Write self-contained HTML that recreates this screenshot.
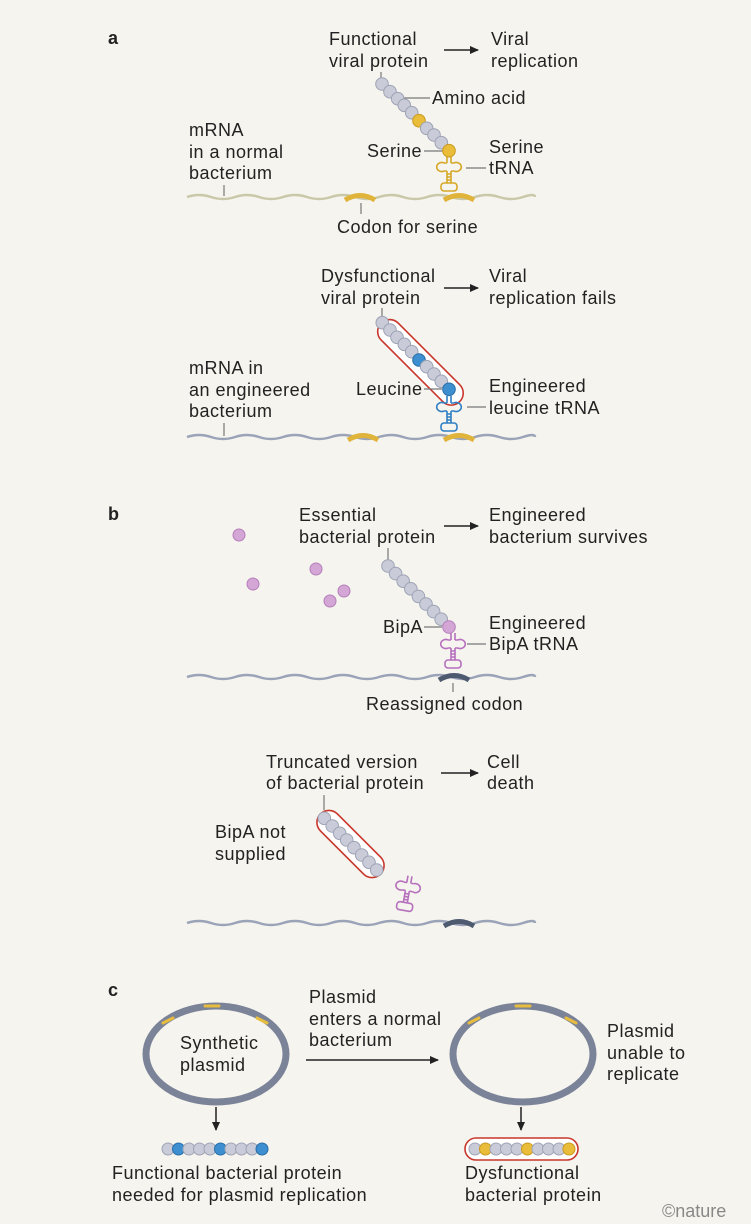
<!DOCTYPE html>
<html><head><meta charset="utf-8"><style>
html,body{margin:0;padding:0;background:#f5f4ee;}
svg{display:block;}
text{font-family:"Liberation Sans",sans-serif;font-size:18px;letter-spacing:0.5px;fill:#222;}
.b{font-weight:bold;font-size:18px;letter-spacing:0;}
.ld{stroke:#777;stroke-width:1.2;fill:none;}
.bd{fill:#c9ccd8;stroke:#9ea3b5;stroke-width:1;}
.y{fill:#e9bd3a;stroke:#c99a1e;stroke-width:1;}
.bl{fill:#3d8fd0;stroke:#2a6ea6;stroke-width:1;}
.pk{fill:#d3a6d6;stroke:#b57fbb;stroke-width:1;}
</style></head><body>
<svg width="751" height="1224" viewBox="0 0 751 1224" xmlns="http://www.w3.org/2000/svg">
<defs>
<marker id="ah" markerWidth="10" markerHeight="10" refX="8" refY="5" orient="auto" markerUnits="userSpaceOnUse"><path d="M0,1 L9,5 L0,9 Z" fill="#222"/></marker>
<g id="trna">
<path d="M-2,0 V7 M2,0 V7 M-2,7 H-5 M2,7 H5 M-2,15 H-5 M2,15 H5 M-2,15 V27 M2,15 V27 M-2,18 H2 M-2,21 H2 M-2,24 H2" fill="none"/>
<path d="M-5,7 A5,4.5 0 1 0 -5,15 M5,7 A5,4.5 0 1 1 5,15" fill="none"/>
<rect x="-8" y="27" width="16" height="8" rx="3" fill="none"/>
</g>
</defs>

<!-- Panel a -->
<text class="b" x="108" y="44">a</text>
<text x="329" y="45">Functional</text>
<text x="329" y="67">viral protein</text>
<line x1="444" y1="50" x2="478" y2="50" stroke="#222" stroke-width="1.5" marker-end="url(#ah)"/>
<text x="491" y="45">Viral</text>
<text x="491" y="67">replication</text>
<line class="ld" x1="381" y1="72" x2="381" y2="80"/>
<line class="ld" x1="404" y1="98" x2="430" y2="98"/>
<text x="432" y="104">Amino acid</text>
<text x="367" y="157">Serine</text>
<line class="ld" x1="424" y1="151" x2="444" y2="151"/>
<text x="489" y="153">Serine</text>
<text x="489" y="174">tRNA</text>
<line class="ld" x1="466" y1="168" x2="486" y2="168"/>
<text x="189" y="136">mRNA</text>
<text x="189" y="158">in a normal</text>
<text x="189" y="179">bacterium</text>
<line class="ld" x1="224" y1="185" x2="224" y2="196"/>
<path d="M187,197 q12,-4 24,0 t24,0 t24,0 t24,0 t24,0 t24,0 t24,0 t24,0 t24,0 t24,0 t24,0 t24,0 t24,0 t24,0 t12,0" stroke="#c9c8a8" stroke-width="2.5" fill="none"/>
<path d="M345,200 q15,-9 30,0" stroke="#e0b43a" stroke-width="5" fill="none"/>
<path d="M444,200 q15,-9 30,0" stroke="#e0b43a" stroke-width="5" fill="none"/>
<line class="ld" x1="361" y1="203" x2="361" y2="214"/>
<text x="337" y="233">Codon for serine</text>
<g stroke="#d6a727" stroke-width="1.6"><use href="#trna" x="449" y="156"/></g>
<circle class="bd" cx="382" cy="84" r="6.3"/><circle class="bd" cx="390" cy="91.7" r="6.3"/><circle class="bd" cx="397.7" cy="98.7" r="6.3"/><circle class="bd" cx="404.3" cy="105.3" r="6.3"/><circle class="bd" cx="411.7" cy="112.7" r="6.3"/><circle class="y" cx="419" cy="120.7" r="6.3"/><circle class="bd" cx="426.7" cy="128.3" r="6.3"/><circle class="bd" cx="434" cy="135" r="6.3"/><circle class="bd" cx="441.3" cy="142.7" r="6.3"/><circle class="y" cx="449" cy="150.7" r="6.3"/>

<!-- a2 -->
<text x="321" y="282">Dysfunctional</text>
<text x="321" y="304">viral protein</text>
<line x1="444" y1="288" x2="478" y2="288" stroke="#222" stroke-width="1.5" marker-end="url(#ah)"/>
<text x="489" y="282">Viral</text>
<text x="489" y="304">replication fails</text>
<line class="ld" x1="382" y1="308" x2="382" y2="316"/>
<rect x="368" y="345" width="111" height="24" rx="12" transform="rotate(45 415.5 356)" fill="#fff" stroke="#c8362c" stroke-width="1.6"/>
<circle class="bd" cx="382.3" cy="322.7" r="6.3"/><circle class="bd" cx="390" cy="330" r="6.3"/><circle class="bd" cx="397" cy="337.3" r="6.3"/><circle class="bd" cx="404.3" cy="344.3" r="6.3"/><circle class="bd" cx="411.7" cy="351.7" r="6.3"/><circle class="bl" cx="419" cy="360" r="6.3"/><circle class="bd" cx="426.7" cy="366.7" r="6.3"/><circle class="bd" cx="434" cy="374" r="6.3"/><circle class="bd" cx="441.3" cy="381.3" r="6.3"/><circle class="bl" cx="449" cy="389.3" r="6.3"/>
<text x="356" y="395">Leucine</text>
<line class="ld" x1="424" y1="389" x2="442" y2="389"/>
<text x="489" y="392">Engineered</text>
<text x="489" y="414">leucine tRNA</text>
<line class="ld" x1="467" y1="407" x2="486" y2="407"/>
<g stroke="#2f7fc4" stroke-width="1.6"><use href="#trna" x="449" y="396"/></g>
<text x="189" y="374">mRNA in</text>
<text x="189" y="396">an engineered</text>
<text x="189" y="417">bacterium</text>
<line class="ld" x1="224" y1="423" x2="224" y2="436"/>
<path d="M187,437 q12,-4 24,0 t24,0 t24,0 t24,0 t24,0 t24,0 t24,0 t24,0 t24,0 t24,0 t24,0 t24,0 t24,0 t24,0 t12,0" stroke="#9aa3b8" stroke-width="2.5" fill="none"/>
<path d="M348,440 q15,-9 30,0" stroke="#e0b43a" stroke-width="5" fill="none"/>
<path d="M444,440 q15,-9 30,0" stroke="#e0b43a" stroke-width="5" fill="none"/>

<!-- Panel b -->
<text class="b" x="108" y="520">b</text>
<text x="299" y="521">Essential</text>
<text x="299" y="543">bacterial protein</text>
<line x1="444" y1="526" x2="478" y2="526" stroke="#222" stroke-width="1.5" marker-end="url(#ah)"/>
<text x="489" y="521">Engineered</text>
<text x="489" y="543">bacterium survives</text>
<line class="ld" x1="388" y1="548" x2="388" y2="560"/>
<circle class="pk" cx="239" cy="535" r="6"/><circle class="pk" cx="253" cy="584" r="6"/><circle class="pk" cx="316" cy="569" r="6"/><circle class="pk" cx="344" cy="591" r="6"/><circle class="pk" cx="330" cy="601" r="6"/>
<circle class="bd" cx="388" cy="566" r="6.3"/><circle class="bd" cx="395.6" cy="573.6" r="6.3"/><circle class="bd" cx="403.2" cy="581.2" r="6.3"/><circle class="bd" cx="410.8" cy="588.8" r="6.3"/><circle class="bd" cx="418.4" cy="596.4" r="6.3"/><circle class="bd" cx="426" cy="604" r="6.3"/><circle class="bd" cx="433.6" cy="611.6" r="6.3"/><circle class="bd" cx="441.2" cy="619.2" r="6.3"/><circle class="pk" cx="449" cy="627" r="6.3"/>
<text x="383" y="633">BipA</text>
<line class="ld" x1="424" y1="627" x2="442" y2="627"/>
<text x="489" y="629">Engineered</text>
<text x="489" y="650">BipA tRNA</text>
<line class="ld" x1="467" y1="644" x2="486" y2="644"/>
<g stroke="#b670bd" stroke-width="1.6"><use href="#trna" x="453" y="633"/></g>
<path d="M187,677 q12,-4 24,0 t24,0 t24,0 t24,0 t24,0 t24,0 t24,0 t24,0 t24,0 t24,0 t24,0 t24,0 t24,0 t24,0 t12,0" stroke="#9aa3b8" stroke-width="2.5" fill="none"/>
<path d="M439,680 q15,-9 30,0" stroke="#4e5a70" stroke-width="5" fill="none"/>
<line class="ld" x1="453" y1="683" x2="453" y2="692"/>
<text x="366" y="710">Reassigned codon</text>

<!-- b2 -->
<text x="266" y="768">Truncated version</text>
<text x="266" y="789">of bacterial protein</text>
<line x1="441" y1="773" x2="478" y2="773" stroke="#222" stroke-width="1.5" marker-end="url(#ah)"/>
<text x="487" y="768">Cell</text>
<text x="487" y="789">death</text>
<line class="ld" x1="324" y1="795" x2="324" y2="810"/>
<text x="215" y="838">BipA not</text>
<text x="215" y="860">supplied</text>
<rect x="308" y="832" width="85" height="24" rx="12" transform="rotate(45 350.5 844)" fill="#fff" stroke="#c8362c" stroke-width="1.6"/>
<circle class="bd" cx="324.3" cy="818.3" r="6.3"/><circle class="bd" cx="332.3" cy="826" r="6.3"/><circle class="bd" cx="339.7" cy="833.3" r="6.3"/><circle class="bd" cx="346.7" cy="840" r="6.3"/><circle class="bd" cx="354" cy="847.7" r="6.3"/><circle class="bd" cx="361.7" cy="855" r="6.3"/><circle class="bd" cx="369" cy="862.3" r="6.3"/><circle class="bd" cx="376.7" cy="870" r="6.3"/>
<g stroke="#b670bd" stroke-width="1.6"><use href="#trna" transform="translate(410 876) rotate(10)"/></g>
<path d="M187,923 q12,-4 24,0 t24,0 t24,0 t24,0 t24,0 t24,0 t24,0 t24,0 t24,0 t24,0 t24,0 t24,0 t24,0 t24,0 t12,0" stroke="#9aa3b8" stroke-width="2.5" fill="none"/>
<path d="M444,926 q15,-9 30,0" stroke="#4e5a70" stroke-width="5" fill="none"/>

<!-- Panel c -->
<text class="b" x="108" y="996">c</text>
<ellipse cx="216" cy="1054" rx="70" ry="48" fill="none" stroke="#7b8398" stroke-width="7"/>
<path d="M205,1006 h14" stroke="#e8bc3c" stroke-width="3" stroke-linecap="round"/>
<path d="M163,1023 l10,-5 M257,1018 l10,5" stroke="#e8bc3c" stroke-width="3" stroke-linecap="round"/>
<text x="180" y="1049">Synthetic</text>
<text x="180" y="1071">plasmid</text>
<text x="309" y="1003">Plasmid</text>
<text x="309" y="1025">enters a normal</text>
<text x="309" y="1046">bacterium</text>
<line x1="306" y1="1060" x2="438" y2="1060" stroke="#222" stroke-width="1.5" marker-end="url(#ah)"/>
<ellipse cx="523" cy="1054" rx="70" ry="48" fill="none" stroke="#7b8398" stroke-width="7"/>
<path d="M516,1006 h14" stroke="#e8bc3c" stroke-width="3" stroke-linecap="round"/>
<path d="M469,1023 l10,-5 M566,1018 l10,5" stroke="#e8bc3c" stroke-width="3" stroke-linecap="round"/>
<text x="607" y="1037">Plasmid</text>
<text x="607" y="1059">unable to</text>
<text x="607" y="1080">replicate</text>
<line x1="216" y1="1107" x2="216" y2="1130" stroke="#222" stroke-width="1.5" marker-end="url(#ah)"/>
<line x1="521" y1="1107" x2="521" y2="1130" stroke="#222" stroke-width="1.5" marker-end="url(#ah)"/>
<circle class="bd" cx="168" cy="1149" r="6"/><circle class="bl" cx="178.5" cy="1149" r="6"/><circle class="bd" cx="189" cy="1149" r="6"/><circle class="bd" cx="199.5" cy="1149" r="6"/><circle class="bd" cx="210" cy="1149" r="6"/><circle class="bl" cx="220.5" cy="1149" r="6"/><circle class="bd" cx="231" cy="1149" r="6"/><circle class="bd" cx="241.5" cy="1149" r="6"/><circle class="bd" cx="252" cy="1149" r="6"/><circle class="bl" cx="262" cy="1149" r="6"/>
<text x="112" y="1179">Functional bacterial protein</text>
<text x="112" y="1201">needed for plasmid replication</text>
<rect x="465" y="1138" width="113" height="22" rx="11" fill="#fff" stroke="#c8362c" stroke-width="1.6"/>
<circle class="bd" cx="475" cy="1149" r="6"/><circle class="y" cx="485.5" cy="1149" r="6"/><circle class="bd" cx="496" cy="1149" r="6"/><circle class="bd" cx="506.5" cy="1149" r="6"/><circle class="bd" cx="517" cy="1149" r="6"/><circle class="y" cx="527.5" cy="1149" r="6"/><circle class="bd" cx="538" cy="1149" r="6"/><circle class="bd" cx="548.5" cy="1149" r="6"/><circle class="bd" cx="559" cy="1149" r="6"/><circle class="y" cx="569" cy="1149" r="6"/>
<text x="465" y="1179">Dysfunctional</text>
<text x="465" y="1201">bacterial protein</text>
<text x="662" y="1217" style="font-size:18px;letter-spacing:0;fill:#888;">©nature</text>
</svg>
</body></html>
